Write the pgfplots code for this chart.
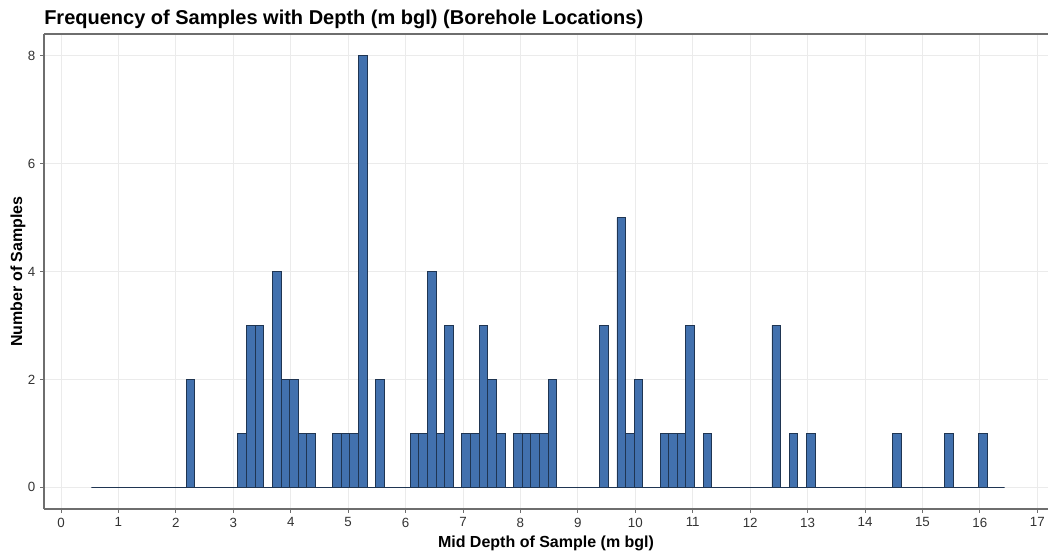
\documentclass[border=0pt]{standalone}
\usepackage{pgfplots}
\pgfplotsset{compat=1.18}
\usepackage{fontspec}
\setmainfont{Liberation Sans}

\definecolor{barfill}{HTML}{4271AE}
\definecolor{barline}{HTML}{1F3552}
\definecolor{gridc}{HTML}{EBEBEB}
\definecolor{spine}{HTML}{6E6E6E}
\definecolor{ticktxt}{HTML}{333333}

\begin{document}
\begin{tikzpicture}
\begin{axis}[
  scale only axis,
  width=753pt, height=356.25pt,
  xmin=-0.296, xmax=17.186,
  ymin=-0.4, ymax=8.4,
  axis x line*=box, axis y line*=left,
  xtick pos=left, ytick pos=left,
  xtick={0,1,...,17},
  ytick={0,2,4,6,8},
  tick align=outside,
  major tick length=3pt,
  axis line style={spine, line width=0.8pt},
  every tick/.style={spine, line width=0.6pt},
  grid=major,
  major grid style={gridc, line width=0.6pt},
  /pgf/number format/assume math mode=true,
  ticklabel style={font=\fontsize{10}{12}\selectfont, text=ticktxt},
  xlabel={Mid Depth of Sample (m bgl)},
  ylabel={Number of Samples},
  xlabel style={at={(axis description cs:0.5,-0.0716)}, anchor=center, font=\fontsize{12}{14}\selectfont\bfseries},
  ylabel style={at={(axis description cs:-0.0259,0.5)}, anchor=center, rotate=0, font=\fontsize{12}{14}\selectfont\bfseries},
  title={Frequency of Samples with Depth (m bgl) (Borehole Locations)},
  title style={at={(axis description cs:0,1)}, anchor=base west, yshift=0.75pt, inner sep=0pt, font=\fontsize{15}{17}\selectfont\bfseries},
]
\coordinate (ll) at (rel axis cs:0,0);
\coordinate (ur) at (rel axis cs:1,1);
% histogram, bin width 0.15 m; runs of empty bins are merged
\addplot[ybar interval, fill=barfill, draw=barline, line width=0.6pt]
coordinates {
  (0.53,0) (2.18,2) (2.33,0) (3.08,1) (3.23,3) (3.38,3) (3.53,0)
  (3.68,4) (3.83,2) (3.98,2) (4.13,1) (4.28,1) (4.43,0)
  (4.73,1) (4.88,1) (5.03,1) (5.18,8) (5.33,0) (5.48,2) (5.63,0)
  (6.08,1) (6.23,1) (6.38,4) (6.53,1) (6.68,3) (6.83,0)
  (6.98,1) (7.13,1) (7.28,3) (7.43,2) (7.58,1) (7.73,0)
  (7.88,1) (8.03,1) (8.18,1) (8.33,1) (8.48,2) (8.63,0)
  (9.38,3) (9.53,0) (9.68,5) (9.83,1) (9.98,2) (10.13,0)
  (10.43,1) (10.58,1) (10.73,1) (10.88,3) (11.03,0) (11.18,1) (11.33,0)
  (12.38,3) (12.53,0) (12.68,1) (12.83,0) (12.98,1) (13.13,0)
  (14.48,1) (14.63,0) (15.38,1) (15.53,0) (15.98,1) (16.13,0) (16.43,0)
};
\end{axis}
\pgfresetboundingbox
\path ([xshift=-33pt,yshift=-33.75pt]ll) rectangle ([yshift=25.5pt]ur);
\end{tikzpicture}
\end{document}
